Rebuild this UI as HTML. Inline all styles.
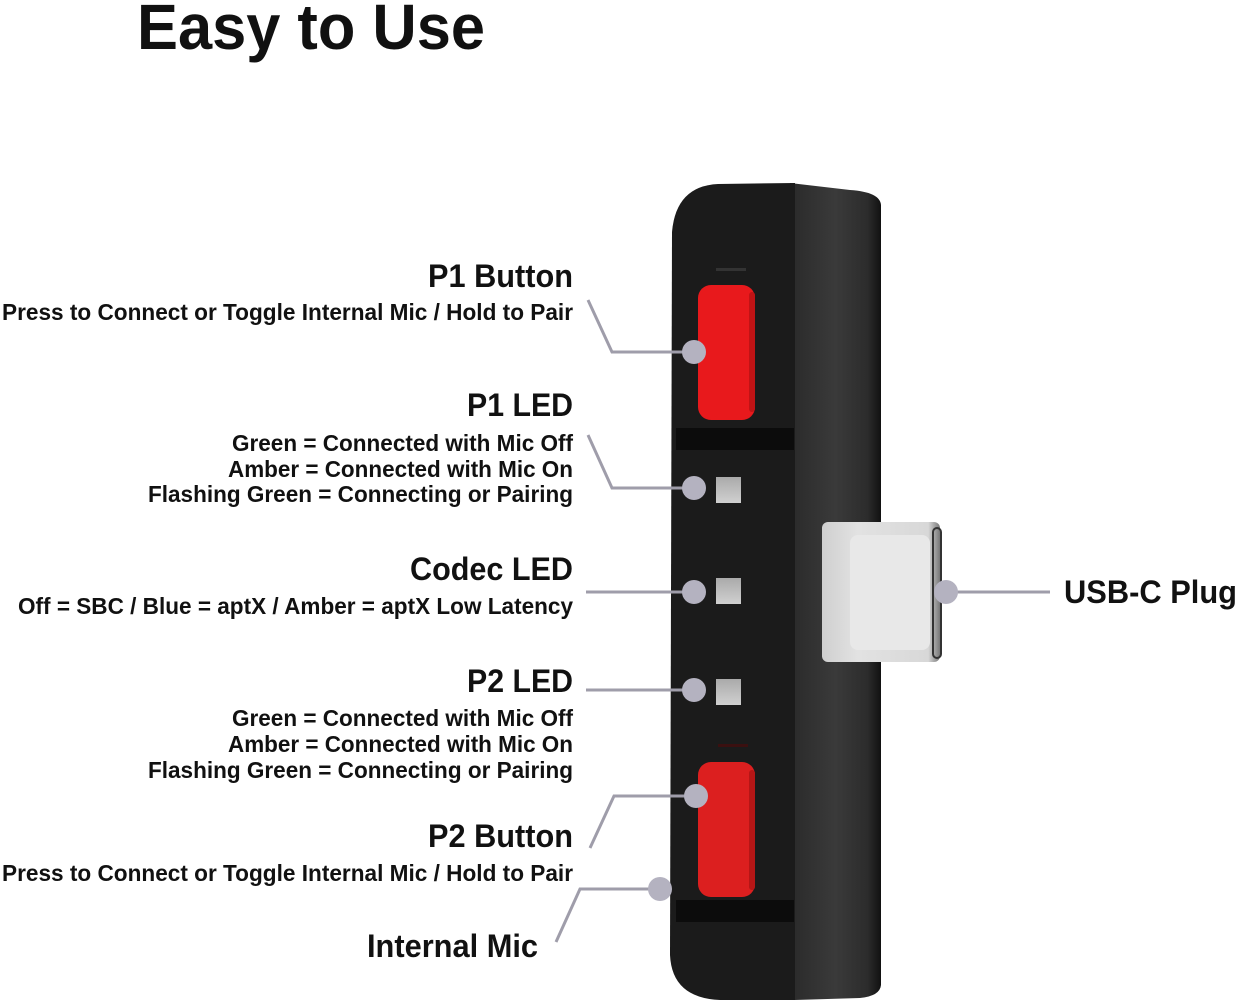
<!DOCTYPE html>
<html><head><meta charset="utf-8"><style>
html,body{margin:0;padding:0;background:#fff;}
svg{display:block;}
text{font-family:"Liberation Sans Narrow","Liberation Sans",sans-serif;font-weight:bold;fill:#111;}
</style></head><body>
<svg width="1244" height="1004" viewBox="0 0 1244 1004" xmlns="http://www.w3.org/2000/svg">
<defs>
<linearGradient id="side" x1="0" x2="1">
<stop offset="0" stop-color="#2a2a2a"/><stop offset="0.5" stop-color="#3a3a3a"/><stop offset="0.85" stop-color="#2c2c2c"/><stop offset="1" stop-color="#111"/>
</linearGradient>
<linearGradient id="plug" x1="0" x2="1">
<stop offset="0" stop-color="#cfcfcf"/><stop offset="0.3" stop-color="#e2e2e2"/><stop offset="0.9" stop-color="#d8d8d8"/><stop offset="1" stop-color="#777"/>
</linearGradient>
<linearGradient id="led" x1="0" y1="0" x2="0" y2="1">
<stop offset="0" stop-color="#aaa"/><stop offset="1" stop-color="#d0d0d0"/>
</linearGradient>
</defs>
<text x="137" y="49" font-size="64" style="font-family:'Liberation Sans',sans-serif" textLength="348" lengthAdjust="spacingAndGlyphs">Easy to Use</text>

<!-- side panel -->
<path d="M790 183 L850 190 Q880 192 881 205 L881 985 Q880 996 860 998 L795 1000 Z" fill="url(#side)"/>
<!-- front face -->
<path d="M718 184 L795 183 L795 1000 L720 1000 Q672 998 670 955 L672 232 Q676 186 718 184 Z" fill="#1b1b1b"/>
<rect x="676" y="428" width="118" height="22" fill="#0c0c0c"/>
<rect x="676" y="900" width="118" height="22" fill="#0c0c0c"/>
<rect x="716" y="268" width="30" height="3" fill="#333"/>
<rect x="718" y="744" width="30" height="3" fill="#3a1010"/>
<!-- buttons -->
<rect x="698" y="285" width="57" height="135" rx="13" fill="#e8191c"/>
<rect x="749" y="292" width="6" height="120" rx="3" fill="#c01315"/>
<rect x="698" y="762" width="57" height="135" rx="13" fill="#dc1f1f"/>
<rect x="749" y="770" width="6" height="120" rx="3" fill="#b51616"/>
<!-- LEDs -->
<rect x="716" y="477" width="25" height="26" fill="url(#led)"/>
<rect x="716" y="578" width="25" height="26" fill="url(#led)"/>
<rect x="716" y="679" width="25" height="26" fill="url(#led)"/>
<!-- USB-C plug -->
<rect x="822" y="522" width="118" height="140" rx="6" fill="url(#plug)"/>
<rect x="850" y="535" width="80" height="115" rx="8" fill="#e8e8e8"/>
<rect x="933" y="528" width="8" height="130" rx="4" fill="none" stroke="#333" stroke-width="2"/>

<!-- connectors -->
<g stroke="#9f9daa" stroke-width="3" fill="none">
<polyline points="588,300 612,352 694,352"/>
<polyline points="588,435 612,488 694,488"/>
<polyline points="586,592 694,592"/>
<polyline points="586,690 694,690"/>
<polyline points="590,848 614,796 696,796"/>
<polyline points="556,942 580,889 660,889"/>
<polyline points="946,592 1050,592"/>
</g>
<g fill="#b4b2c0">
<circle cx="694" cy="352" r="12"/>
<circle cx="694" cy="488" r="12"/>
<circle cx="694" cy="592" r="12"/>
<circle cx="694" cy="690" r="12"/>
<circle cx="696" cy="796" r="12"/>
<circle cx="660" cy="889" r="12"/>
<circle cx="946" cy="592" r="12"/>
</g>

<!-- labels -->
<g text-anchor="end">
<text x="573" y="287" font-size="32" textLength="145" lengthAdjust="spacingAndGlyphs">P1 Button</text>
<text x="573" y="320" font-size="23" textLength="571" lengthAdjust="spacingAndGlyphs">Press to Connect or Toggle Internal Mic / Hold to Pair</text>
<text x="573" y="416" font-size="32" textLength="106" lengthAdjust="spacingAndGlyphs">P1 LED</text>
<text x="573" y="451" font-size="23" textLength="341" lengthAdjust="spacingAndGlyphs">Green = Connected with Mic Off</text>
<text x="573" y="477" font-size="23" textLength="345" lengthAdjust="spacingAndGlyphs">Amber = Connected with Mic On</text>
<text x="573" y="502" font-size="23" textLength="425" lengthAdjust="spacingAndGlyphs">Flashing Green = Connecting or Pairing</text>
<text x="573" y="580" font-size="32" textLength="163" lengthAdjust="spacingAndGlyphs">Codec LED</text>
<text x="573" y="614" font-size="23" textLength="555" lengthAdjust="spacingAndGlyphs">Off = SBC / Blue = aptX / Amber = aptX Low Latency</text>
<text x="573" y="692" font-size="32" textLength="106" lengthAdjust="spacingAndGlyphs">P2 LED</text>
<text x="573" y="726" font-size="23" textLength="341" lengthAdjust="spacingAndGlyphs">Green = Connected with Mic Off</text>
<text x="573" y="752" font-size="23" textLength="345" lengthAdjust="spacingAndGlyphs">Amber = Connected with Mic On</text>
<text x="573" y="778" font-size="23" textLength="425" lengthAdjust="spacingAndGlyphs">Flashing Green = Connecting or Pairing</text>
<text x="573" y="847" font-size="32" textLength="145" lengthAdjust="spacingAndGlyphs">P2 Button</text>
<text x="573" y="881" font-size="23" textLength="571" lengthAdjust="spacingAndGlyphs">Press to Connect or Toggle Internal Mic / Hold to Pair</text>
<text x="538" y="957" font-size="32" textLength="171" lengthAdjust="spacingAndGlyphs">Internal Mic</text>
</g>
<text x="1064" y="603" font-size="32" textLength="173" lengthAdjust="spacingAndGlyphs">USB-C Plug</text>
</svg>
</body></html>
